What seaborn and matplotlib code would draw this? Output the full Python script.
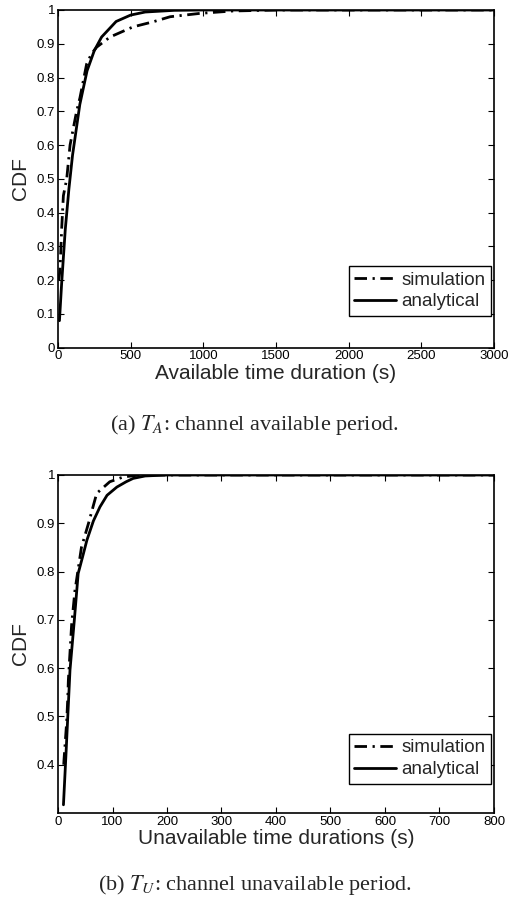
import matplotlib
matplotlib.use("Agg")
import matplotlib.pyplot as plt
import seaborn as sns
import pandas as pd

# ---- data ----
xA_ana = [10, 25, 50, 75, 100, 150, 200, 250, 300, 400, 500, 600, 800, 1000, 1500, 2000, 2500, 3000]
yA_ana = [0.08, 0.19, 0.35, 0.47, 0.57, 0.72, 0.82, 0.88, 0.92, 0.966, 0.985, 0.994, 0.999, 1.0, 1.0, 1.0, 1.0, 1.0]
xA_sim = [5, 14, 25, 37, 60, 83, 128, 151, 197, 230, 266, 358, 516, 654, 771, 977, 1200, 1500, 2000, 2500, 3000]
yA_sim = [0.20, 0.23, 0.35, 0.45, 0.50, 0.60, 0.70, 0.74, 0.84, 0.87, 0.89, 0.92, 0.95, 0.965, 0.98, 0.99, 0.997, 1.0, 1.0, 1.0, 1.0]

xU_ana = [10, 15, 22, 30, 37, 45, 53, 65, 77, 90, 108, 125, 138, 160, 200, 300, 500, 800]
yU_ana = [0.317, 0.43, 0.596, 0.70, 0.796, 0.83, 0.865, 0.905, 0.934, 0.958, 0.975, 0.986, 0.993, 0.998, 1.0, 1.0, 1.0, 1.0]
xU_sim = [10.5, 11, 16, 18, 19, 25, 31, 43, 56, 71, 95, 120, 150, 200, 400, 600, 800]
yU_sim = [0.40, 0.41, 0.49, 0.54, 0.575, 0.69, 0.76, 0.85, 0.90, 0.962, 0.986, 0.996, 1.0, 1.0, 1.0, 1.0, 1.0]

series_names = ["simulation", "analytical"]
xticksA = [0, 500, 1000, 1500, 2000, 2500, 3000]
yticksA = [0, 0.1, 0.2, 0.3, 0.4, 0.5, 0.6, 0.7, 0.8, 0.9, 1]
xticksU = [0, 100, 200, 300, 400, 500, 600, 700, 800]
yticksU = [0.4, 0.5, 0.6, 0.7, 0.8, 0.9, 1]

sns.set_style("ticks")
plt.rcParams["font.family"] = ["Liberation Sans", "DejaVu Sans"]
plt.rcParams["mathtext.fontset"] = "stix"

fig = plt.figure(figsize=(5.09, 9.0), dpi=100)
axA = fig.add_axes([58/509, 1-347.7/900, 436/509, 337.7/900])
axU = fig.add_axes([58/509, 1-813/900, 436/509, 338/900])

dash_style = (0, (4.5, 2.0, 0.8, 2.0))

def draw(ax, xs, ys, xa, ya, xlim, ylim, xt, yt, xlabel, leg_bottom):
    df_sim = pd.DataFrame({"x": xs, "y": ys})
    df_ana = pd.DataFrame({"x": xa, "y": ya})
    sns.lineplot(data=df_sim, x="x", y="y", ax=ax, color="black", lw=2.0,
                 linestyle=dash_style, label=series_names[0], sort=False)
    sns.lineplot(data=df_ana, x="x", y="y", ax=ax, color="black", lw=2.0,
                 label=series_names[1], sort=False)
    ax.lines[0].set_linestyle(dash_style)
    ax.set_xlim(*xlim)
    ax.set_ylim(*ylim)
    ax.set_xticks(xt)
    ax.set_xticklabels([str(v) for v in xt])
    ax.set_yticks(yt)
    ax.set_yticklabels([("%g" % v) for v in yt])
    ax.tick_params(direction="in", top=True, right=True, labelsize=9.5,
                   length=4, width=0.8, colors="black", pad=2)
    for s in ax.spines.values():
        s.set_visible(True)
        s.set_linewidth(1.2)
        s.set_color("black")
    ax.set_xlabel(xlabel, fontsize=15, labelpad=1)
    ax.set_ylabel("CDF", fontsize=15, labelpad=5)
    leg = ax.legend(loc="lower right", bbox_to_anchor=(0.993, leg_bottom),
                    borderaxespad=0, fontsize=13.5, frameon=True, fancybox=False,
                    handlelength=2.2, handletextpad=0.3, labelspacing=0.25,
                    borderpad=0.3)
    leg.get_frame().set_edgecolor("black")
    leg.get_frame().set_linewidth(1.0)
    leg.get_frame().set_alpha(1)

draw(axA, xA_sim, yA_sim, xA_ana, yA_ana, (0, 3000), (0, 1), xticksA, yticksA,
     "Available time duration (s)", 0.094)
draw(axU, xU_sim, yU_sim, xU_ana, yU_ana, (0, 800), (0.3, 1), xticksU, yticksU,
     "Unavailable time durations (s)", 0.086)

fig.text(0.5, 1-425/900, r"(a) $T_A$: channel available period.", ha="center",
         va="center", fontsize=16, family=["Liberation Serif", "DejaVu Serif"])
fig.text(0.5, 1-885/900, r"(b) $T_U$: channel unavailable period.", ha="center",
         va="center", fontsize=16, family=["Liberation Serif", "DejaVu Serif"])

fig.savefig("out.png", dpi=100)
